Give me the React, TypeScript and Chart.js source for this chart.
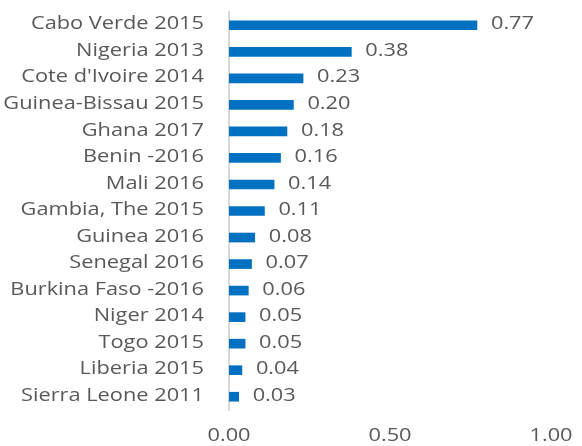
import React, { useEffect, useRef } from "react";
import { Chart, registerables } from "chart.js";

Chart.register(...registerables);

const categories = [
  "Cabo Verde 2015",
  "Nigeria 2013",
  "Cote d'Ivoire 2014",
  "Guinea-Bissau 2015",
  "Ghana 2017",
  "Benin -2016",
  "Mali 2016",
  "Gambia, The 2015",
  "Guinea 2016",
  "Senegal 2016",
  "Burkina Faso -2016",
  "Niger 2014",
  "Togo 2015",
  "Liberia 2015",
  "Sierra Leone 2011",
];
const values = [0.77, 0.38, 0.23, 0.2, 0.18, 0.16, 0.14, 0.11, 0.08, 0.07, 0.06, 0.05, 0.05, 0.04, 0.03];
const xTicks = [0, 0.5, 1];

const FONT_FAMILY = "'Open Sans', 'Noto Sans', sans-serif";
const FONT_SIZE = 18;
const TEXT_COLOR = "#595959";
const SX = 1.21;

export default function App() {
  const ref = useRef<HTMLCanvasElement | null>(null);
  useEffect(() => {
    document.body.style.margin = "0";
    const drawText = (ctx: any, text: string, x: number, y: number, align: string) => {
      ctx.save();
      ctx.translate(x, y);
      ctx.scale(SX, 1);
      ctx.textAlign = align;
      ctx.fillText(text, 0, 0);
      ctx.restore();
    };
    const labelPlugin = {
      id: "textLabels",
      afterDraw(chart: any) {
        const ctx = chart.ctx;
        const meta = chart.getDatasetMeta(0);
        const xs = chart.scales.x;
        const ys = chart.scales.y;
        ctx.save();
        ctx.font = `${FONT_SIZE}px ${FONT_FAMILY}`;
        ctx.fillStyle = TEXT_COLOR;
        ctx.textBaseline = "middle";
        meta.data.forEach((bar: any, i: number) => {
          drawText(ctx, values[i].toFixed(2), bar.x + 14, bar.y - 1, "left");
        });
        categories.forEach((c, i) => {
          drawText(ctx, c, chart.chartArea.left - 25, ys.getPixelForValue(i) - 1, "right");
        });
        xTicks.forEach((v) => {
          drawText(ctx, v.toFixed(2), xs.getPixelForValue(v), xs.top + 26, "center");
        });
        ctx.restore();
      },
    };
    const chart = new Chart(ref.current!, {
      type: "bar",
      data: {
        labels: categories,
        datasets: [
          {
            data: values,
            backgroundColor: "#0070C0",
            barThickness: 9,
          },
        ],
      },
      options: {
        indexAxis: "y",
        animation: false,
        responsive: false,
        layout: { padding: { top: 12, right: 31, left: 0, bottom: 0 } },
        plugins: { legend: { display: false }, tooltip: { enabled: false } },
        scales: {
          x: {
            min: 0,
            max: 1,
            afterBuildTicks(scale: any) {
              scale.ticks = xTicks.map((v) => ({ value: v }));
            },
            afterFit(scale: any) {
              scale.height = 36;
            },
            grid: { display: false, drawTicks: false },
            border: { display: false },
            ticks: { display: false },
          },
          y: {
            afterFit(scale: any) {
              scale.width = 229;
            },
            grid: { display: false, drawTicks: false },
            border: { display: true, color: "#d9d9d9", width: 2 },
            ticks: { display: false },
          },
        },
      },
      plugins: [labelPlugin],
    });
    return () => chart.destroy();
  }, []);
  return <canvas ref={ref} width={582} height={446} style={{ display: "block" }} />;
}
